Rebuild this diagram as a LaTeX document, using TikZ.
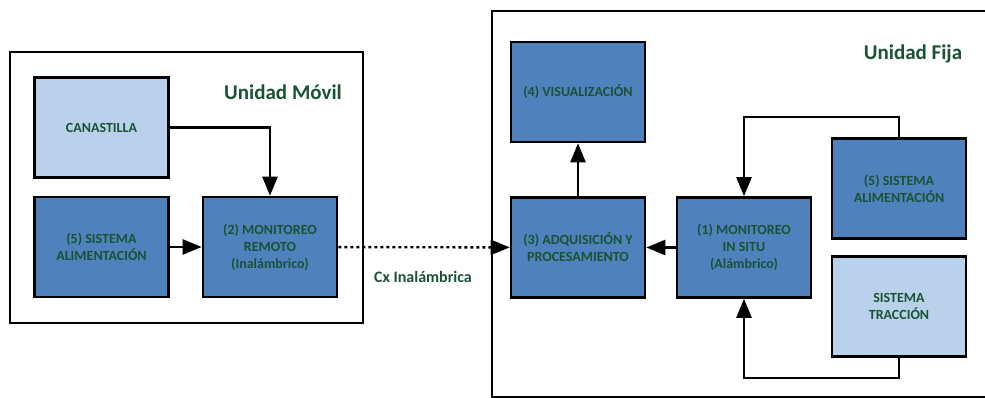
\documentclass[tikz,border=0pt]{standalone}
\usepackage{fontspec}
\setmainfont{Carlito}
\usepackage{tikz}
\usetikzlibrary{arrows.meta}

\definecolor{bloque}{RGB}{79,129,189}
\definecolor{bloqueclaro}{RGB}{185,209,234}
\definecolor{verde}{RGB}{26,82,52}

\tikzset{
	caja/.style={draw=black,line width=2.6pt,fill=bloque,minimum width=134pt,minimum height=100pt,inner sep=2pt,align=center,text=verde,font=\bfseries\fontsize{14}{17}\selectfont},
	cajaclara/.style={caja,fill=bloqueclaro},
	marco/.style={draw=black,line width=2.4pt},
	flecha/.style={line width=2.4pt,-{Triangle[length=19pt,width=15pt]}},
	titulo/.style={text=verde,font=\bfseries\fontsize{21}{24}\selectfont}
}

\begin{document}
\begin{tikzpicture}[x=1pt,y=-1pt]
	\useasboundingbox (0,0) rectangle (985,398);
	% marcos
	\draw[marco] (10,52) rectangle (363,323);
	\draw[marco] (492,11) rectangle (995,397);
	\node[titulo] (movil) at (283,92) {Unidad Móvil};
	\node[titulo] (fija) at (913,54) {Unidad Fija};
	% unidad movil
	\node[cajaclara] (can) at (101.5,127.5) {CANASTILLA};
	\node[caja] (alimA) at (101.5,247) {(5) SISTEMA\\ALIMENTACIÓN};
	\node[caja] (monB) at (270,247) {(2) MONITOREO\\REMOTO\\(Inalámbrico)};
	% unidad fija
	\node[caja] (vis) at (578,92) {(4) VISUALIZACIÓN};
	\node[caja] (adq) at (578,247.5) {(3) ADQUISICIÓN Y\\PROCESAMIENTO};
	\node[caja] (monA) at (744,247.5) {(1) MONITOREO\\IN SITU\\(Alámbrico)};
	\node[caja] (alimB) at (899,188.5) {(5) SISTEMA\\ALIMENTACIÓN};
	\node[cajaclara] (trac) at (899,306.5) {SISTEMA\\TRACCIÓN};
	% conexiones
	\draw[flecha] (can.east) -| (monB.north);
	\draw[flecha] (alimA) -- (monB);
	\draw[flecha,dash pattern=on 3pt off 3pt] (monB) -- (adq);
	\node[text=verde,font=\bfseries\fontsize{16}{18}\selectfont] (cx) at (423,277) {Cx Inalámbrica};
	\draw[flecha] (adq) -- (vis);
	\draw[flecha] (monA) -- (adq);
	\draw[flecha] (alimB.north) -- ++(0,-20) -| (monA.north);
	\draw[flecha] (trac.south) -- ++(0,20) -| (monA.south);
\end{tikzpicture}
\end{document}
